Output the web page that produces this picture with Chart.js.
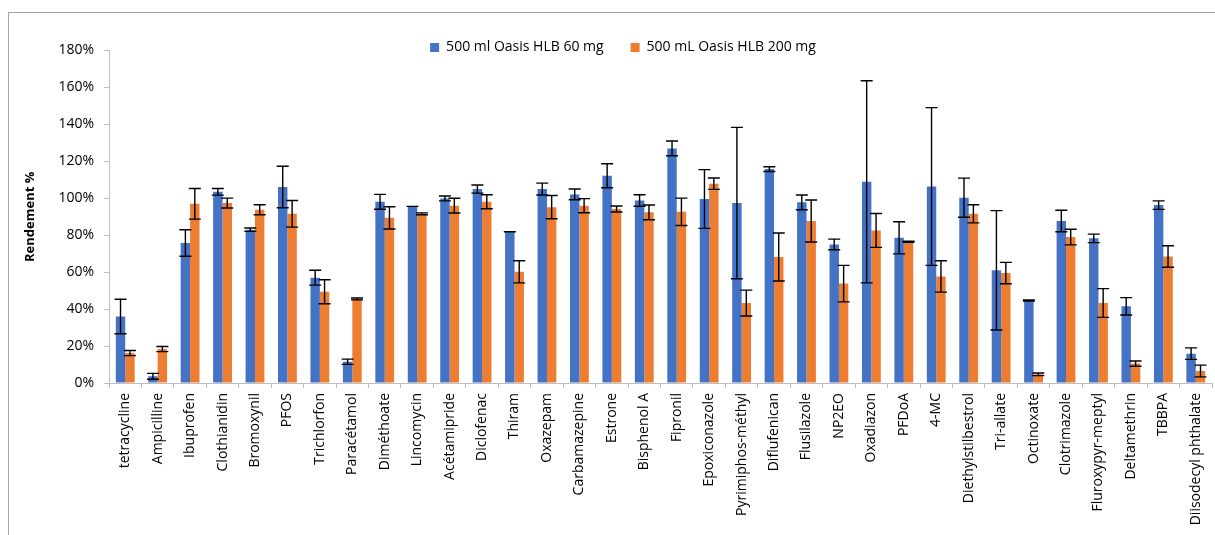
<!DOCTYPE html>
<html>
<head>
<meta charset="utf-8">
<script src="https://cdn.jsdelivr.net/npm/chart.js@4"></script>
<style>
  body { margin: 0; background: #fff; }
  #wrap { position: relative; width: 1215px; height: 535px; }
  #frame { position: absolute; left: 8px; top: 12px; right: 0; bottom: 0; border-left: 1px solid #a6a6a6; border-top: 1px solid #a6a6a6; }
  canvas { position: absolute; left: 0; top: 0; }
</style>
</head>
<body>
<div id="wrap">
  <div id="frame"></div>
  <canvas id="recoveryChart" width="1215" height="535"></canvas>
</div>
<script>
// Compounds on the x axis
const compounds = ['tetracycline', 'Ampicilline', 'Ibuprofen', 'Clothianidin', 'Bromoxynil', 'PFOS',
  'Trichlorfon', 'Paracétamol', 'Diméthoate', 'Lincomycin', 'Acétamipride', 'Diclofenac', 'Thiram',
  'Oxazepam', 'Carbamazepine', 'Estrone', 'Bisphenol A', 'Fipronil', 'Epoxiconazole', 'Pyrimiphos-méthyl',
  'Diflufenican', 'Flusilazole', 'NP2EO', 'Oxadiazon', 'PFDoA', '4-MC', 'Diethylstilbestrol', 'Tri-allate',
  'Octinoxate', 'Clotrimazole', 'Fluroxypyr-meptyl', 'Deltamethrin', 'TBBPA', 'Diisodecyl phthalate'];

// Recovery (%) with 60 mg cartridge
const hlb60 = [36.0, 3.6, 75.8, 103.5, 83.0, 106.1, 57.0, 11.5, 98.1, 95.6, 99.9, 105.0, 81.9, 105.0,
  102.1, 112.2, 98.8, 127.0, 99.6, 97.4, 115.8, 97.8, 75.0, 108.9, 78.6, 106.4, 100.3, 61.0, 44.7, 87.7,
  78.3, 41.5, 96.3, 15.9];
const hlb60Err = [9.3, 1.6, 7.2, 1.8, 0.9, 11.2, 4.0, 1.4, 4.0, 0, 1.3, 2.2, 0, 3.2, 2.9, 6.5, 3.1, 4.0,
  15.9, 41.0, 1.3, 4.0, 2.9, 54.7, 8.7, 42.7, 10.6, 32.3, 0.3, 5.8, 2.3, 4.7, 2.3, 3.1];

// Recovery (%) with 200 mg cartridge
const hlb200 = [16.2, 18.4, 97.0, 97.4, 93.8, 91.6, 49.4, 45.5, 89.4, 91.6, 96.0, 98.1, 60.2, 95.2,
  96.0, 94.2, 92.4, 92.7, 107.9, 43.3, 68.2, 87.7, 53.8, 82.6, 76.5, 57.7, 91.6, 59.5, 4.7, 79.0, 43.3,
  10.5, 68.5, 6.5];
const hlb200Err = [1.4, 1.4, 8.3, 2.7, 2.7, 7.2, 6.5, 0.5, 6.0, 0.5, 4.0, 3.8, 6.0, 6.3, 3.8, 1.6, 4.0,
  7.4, 3.1, 7.0, 13.0, 11.4, 9.9, 9.2, 0.3, 8.5, 4.9, 5.8, 0.7, 4.2, 7.8, 1.4, 5.8, 3.2];

const yTicks = [0, 20, 40, 60, 80, 100, 120, 140, 160, 180];

const axisGrey = '#bfbfbf';
const font = 'Open Sans';

// draws the +/- error bars on top of each bar
const errorBars = {
  id: 'errorBars',
  afterDatasetsDraw(chart) {
    const ctx = chart.ctx;
    const y = chart.scales.y;
    chart.data.datasets.forEach((ds, i) => {
      const meta = chart.getDatasetMeta(i);
      meta.data.forEach((bar, j) => {
        const v = ds.data[j], e = ds.errors[j];
        const top = y.getPixelForValue(v + e);
        const bot = y.getPixelForValue(v - e);
        ctx.save();
        ctx.strokeStyle = '#000';
        ctx.lineWidth = 1.4;
        ctx.beginPath();
        ctx.moveTo(bar.x, top); ctx.lineTo(bar.x, bot);
        ctx.moveTo(bar.x - 6, top); ctx.lineTo(bar.x + 6, top);
        ctx.moveTo(bar.x - 6, bot); ctx.lineTo(bar.x + 6, bot);
        ctx.stroke();
        ctx.restore();
      });
    });
  }
};

// fixed legend height so it sits just above the plot (and no clipping of descenders)
const legendHeight = {
  id: 'legendHeight',
  beforeInit(chart) {
    const lg = chart.legend;
    const fit = lg.fit;
    lg.fit = function () {
      fit.call(this);
      this.height = 37;
    };
    lg.draw = function () {
      if (this.options.display) this._draw();
    };
  }
};

const ctx = document.getElementById('recoveryChart').getContext('2d');
new Chart(ctx, {
  type: 'bar',
  data: {
    labels: compounds,
    datasets: [
      { label: '500 ml Oasis HLB 60 mg', data: hlb60, errors: hlb60Err, backgroundColor: '#4472C4' },
      { label: '500 mL Oasis HLB 200 mg', data: hlb200, errors: hlb200Err, backgroundColor: '#ED7D31' }
    ]
  },
  options: {
    responsive: false,
    animation: false,
    datasets: { bar: { categoryPercentage: 0.58, barPercentage: 1.0 } },
    layout: { padding: { top: 13.5, left: 34, right: 3, bottom: 0 } },
    plugins: {
      legend: {
        position: 'top',
        labels: { boxWidth: 9, boxHeight: 9, padding: 27, color: '#000', font: { family: font, size: 14 } }
      },
      tooltip: { enabled: false }
    },
    scales: {
      x: {
        grid: { drawOnChartArea: false, offset: true, tickLength: 5, color: axisGrey },
        border: { color: axisGrey },
        ticks: { minRotation: 90, maxRotation: 90, autoSkip: false, padding: 5, color: '#000', font: { family: font, size: 14 } },
        afterFit(scale) {
          scale.height = 152;
          scale.paddingLeft = 0;
          scale.paddingRight = 0;
        }
      },
      y: {
        min: 0,
        max: 180,
        afterBuildTicks(scale) { scale.ticks = yTicks.map(v => ({ value: v })); },
        grid: { drawOnChartArea: false, tickLength: 5, color: axisGrey },
        border: { color: axisGrey },
        ticks: { padding: 10, color: '#000', font: { family: font, size: 14 }, callback: v => v + '%' },
        title: { display: true, text: 'Rendement %', color: '#000', padding: { top: -12, bottom: 0 }, font: { family: font, size: 13, weight: 'bold' } },
        afterFit(scale) { scale.width = 75; }
      }
    }
  },
  plugins: [errorBars, legendHeight]
});
</script>
</body>
</html>
